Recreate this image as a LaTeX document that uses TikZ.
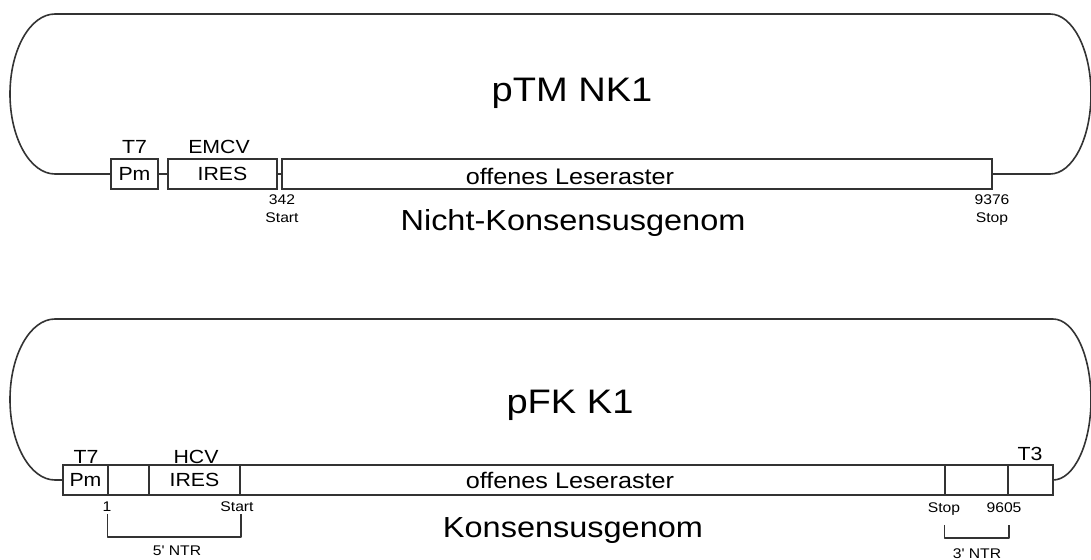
\documentclass[tikz,border=0pt]{standalone}
\usepackage{fontspec}
\setmainfont{Liberation Sans}[FakeStretch=1.12, Ligatures=TeXOff]
\begin{document}
\begin{tikzpicture}[x=1pt, y=-1pt,
  wire/.style={draw=black!80, line width=1.6pt, line join=round},
  seg/.style={rectangle, draw=black!80, line width=1.6pt, minimum height=30pt,
              inner sep=0pt, font=\fontsize{19}{20}\selectfont, text=black},
  lbl/.style={anchor=base, inner sep=0pt, text=black},
  small/.style={lbl, font=\fontsize{14}{15}\selectfont},
  mid/.style={lbl, font=\fontsize{19}{20}\selectfont},
  orftext/.style={lbl, font=\fontsize{22.5}{24}\selectfont},
  title/.style={lbl, font=\fontsize{34}{36}\selectfont},
  genome/.style={lbl, font=\fontsize{29}{31}\selectfont}]
\useasboundingbox (0,0) rectangle (1091,559);

% ---------- pTM NK1 ----------
\node[seg, minimum width=47pt]  (pmA)   at (134.5,174) {Pm};
\node[seg, minimum width=109pt] (iresA) at (222.5,174) {IRES};
\node[seg, minimum width=710pt] (orfA)  at (637,174) {};
\draw[wire] (pmA.east) -- (iresA.west);
\draw[wire] (iresA.east) -- (orfA.west);
\draw[wire] (pmA.west) -- (55,174)
  arc[start angle=270, end angle=90, x radius=45pt, y radius=80pt]
  -- (1050,14)
  arc[start angle=90, end angle=-90, x radius=41pt, y radius=80pt]
  -- (orfA.east);

\node[mid] (t7A)   at (134.5,153) {T7};
\node[mid] (emcv)  at (219,153) {EMCV};
\node[orftext] (orfAtext) at (570,184) {offenes Leseraster};
\node[small] (n342)   at (282,204) {342};
\node[small] (startA) at (282,222) {Start};
\node[small] (n9376)  at (992,204) {9376};
\node[small] (stopA)  at (992,222) {Stop};
\node[title]  (ptm)  at (572,102) {pTM NK1};
\node[genome] (nkg)  at (573,230) {Nicht-Konsensusgenom};

% ---------- pFK K1 ----------
\node[seg, minimum width=45pt]  (pmB)   at (85.5,480) {Pm};
\node[seg, minimum width=41pt]  (ntrB)  at (128.5,480) {};
\node[seg, minimum width=91pt]  (iresB) at (194.5,480) {IRES};
\node[seg, minimum width=705pt] (orfB)  at (592.5,480) {};
\node[seg, minimum width=63pt]  (utrB)  at (976.5,480) {};
\node[seg, minimum width=45pt]  (t3B)   at (1030.5,480) {};
\draw[wire] (pmB.west) -- (55,480)
  arc[start angle=270, end angle=90, x radius=45pt, y radius=80.5pt]
  -- (1053,319)
  arc[start angle=90, end angle=-90, x radius=38pt, y radius=80.5pt]
  -- (t3B.east);

\node[mid] (t7B)  at (86,463) {T7};
\node[mid] (hcv)  at (196,463) {HCV};
\node[mid] (t3)   at (1030,460) {T3};
\node[orftext] (orfBtext) at (570,488) {offenes Leseraster};
\node[small] (one)    at (107,511) {1};
\node[small] (startB) at (237,511) {Start};
\node[small] (stopB)  at (944,512) {Stop};
\node[small] (n9605)  at (1004,512) {9605};
\node[title]  (pfk) at (570,413) {pFK K1};
\node[genome] (kg)  at (573,537) {Konsensusgenom};

% NTR brackets
\draw[wire, line width=1.4pt] ([yshift=-18pt]ntrB.south west) -- ++(0,23) -| ([yshift=-18pt]iresB.south east);
\draw[wire, line width=1.4pt] ([yshift=-29pt]utrB.south west) -- ++(0,13) -| ([yshift=-29pt]utrB.south east);
\node[small] (ntr5) at (177,555) {5' NTR};
\node[small] (ntr3) at (977,558) {3' NTR};
\end{tikzpicture}
\end{document}
